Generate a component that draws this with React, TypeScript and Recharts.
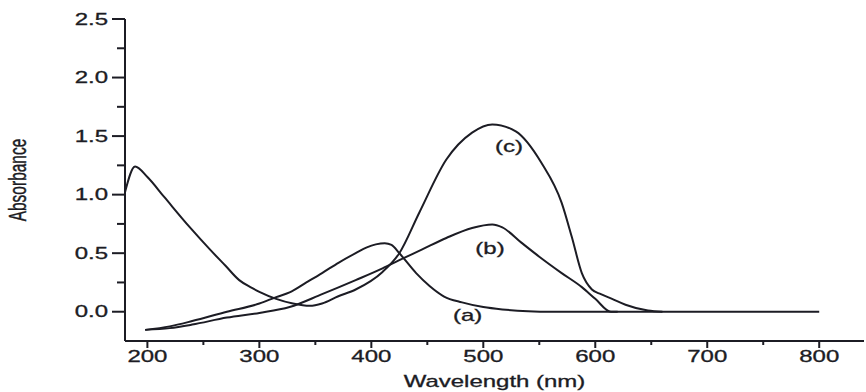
import { LineChart, Line, XAxis, YAxis, ReferenceDot } from 'recharts';

// spectrum (a)
const wlA = [198, 220, 240, 271, 300, 315, 327, 342, 356, 371, 386, 396, 404, 412, 418, 425, 440, 452, 465, 481, 500, 517, 540, 560, 800];
const absA = [-0.155, -0.125, -0.08, 0.0, 0.07, 0.125, 0.165, 0.25, 0.33, 0.42, 0.5, 0.55, 0.575, 0.585, 0.57, 0.5, 0.33, 0.22, 0.13, 0.08, 0.04, 0.02, 0.005, 0, 0];

// spectrum (b)
const wlB = [198, 220, 240, 271, 300, 327, 356, 386, 410, 425, 445, 467, 490, 508, 517, 534, 550, 570, 588, 600, 614, 620];
const absB = [-0.155, -0.14, -0.11, -0.05, -0.01, 0.04, 0.15, 0.27, 0.37, 0.44, 0.53, 0.63, 0.715, 0.745, 0.72, 0.59, 0.47, 0.33, 0.21, 0.11, 0, 0];

// spectrum (c)
const wlC = [180, 189, 200, 215, 238, 256, 270, 282, 292, 300, 315, 330, 345, 356, 370, 386, 410, 425, 443, 467, 490, 508, 529, 552, 570, 579, 588, 597, 605, 615, 627, 647, 660];
const absC = [1.02, 1.24, 1.15, 0.98, 0.72, 0.53, 0.39, 0.27, 0.21, 0.17, 0.11, 0.07, 0.05, 0.07, 0.13, 0.19, 0.34, 0.5, 0.85, 1.3, 1.53, 1.6, 1.54, 1.27, 0.93, 0.64, 0.33, 0.19, 0.15, 0.11, 0.06, 0.01, 0];

const wlTicks = [200, 250, 300, 350, 400, 450, 500, 550, 600, 650, 700, 750, 800];
const absTicks = [0, 0.25, 0.5, 0.75, 1, 1.25, 1.5, 1.75, 2, 2.25, 2.5];

const curveNames = ['(a)', '(b)', '(c)'];
const nameWl = [486, 506, 523];
const nameAbs = [-0.026, 0.546, 1.41];

const toRows = (wl: number[], abs: number[]) => wl.map((w, i) => ({ wl: w, abs: abs[i] }));

const FONT = '"Liberation Sans", Arial, sans-serif';
const INK = '#1c1c24';

// the source figure is stretched sideways, so the text is too
const Stretched = ({ x, y, anchor, children }: any) => (
  <text
    transform={`translate(${x},${y}) scale(1.5,1)`}
    textAnchor={anchor}
    dy="0.36em"
    fontSize={16}
    fontFamily={FONT}
    fill={INK}
    stroke={INK}
    strokeWidth={0.3}
  >
    {children}
  </text>
);

const YTick = ({ x, y, payload }: any) => {
  const major = Math.abs(payload.value * 2 - Math.round(payload.value * 2)) < 1e-6;
  return (
    <g>
      <line x1={x} x2={x - (major ? 13 : 8)} y1={y} y2={y} stroke={INK} strokeWidth={2} />
      {major && (
        <Stretched x={x - 17} y={y} anchor="end">
          {payload.value.toFixed(1)}
        </Stretched>
      )}
    </g>
  );
};

const XTick = ({ x, y, payload }: any) => {
  const major = payload.value % 100 === 0;
  return (
    <g>
      <line x1={x} x2={x} y1={y} y2={y + (major ? 7 : 4)} stroke={INK} strokeWidth={2} />
      {major && (
        <Stretched x={x} y={y + 15} anchor="middle">
          {payload.value}
        </Stretched>
      )}
    </g>
  );
};

const YTitle = ({ viewBox }: any) => (
  <text
    transform={`translate(${viewBox.x - 47},${viewBox.y + viewBox.height / 2}) scale(1.5,1) rotate(-90)`}
    textAnchor="middle"
    dy="0.36em"
    fontSize={15.5}
    fontFamily={FONT}
    fill={INK}
    stroke={INK}
    strokeWidth={0.3}
  >
    Absorbance
  </text>
);

const XTitle = ({ viewBox }: any) => (
  <Stretched x={viewBox.x + viewBox.width / 2} y={viewBox.y + 40} anchor="middle">
    Wavelength (nm)
  </Stretched>
);

export default function App() {
  const series = [toRows(wlA, absA), toRows(wlB, absB), toRows(wlC, absC)];
  return (
    <div style={{ position: 'absolute', left: 0, top: 0, background: '#fff' }}>
      <LineChart width={866} height={392} margin={{ top: 19, right: 2, left: 65, bottom: 0 }}>
        <XAxis
          type="number"
          dataKey="wl"
          domain={[180, 840]}
          ticks={wlTicks}
          interval={0}
          height={51}
          tickSize={0}
          tickMargin={0}
          tickLine={false}
          axisLine={{ stroke: INK, strokeWidth: 2 }}
          tick={<XTick />}
          label={<XTitle />}
          allowDuplicatedCategory={false}
        />
        <YAxis
          type="number"
          domain={[-0.25, 2.5]}
          ticks={absTicks}
          interval={0}
          width={60}
          tickSize={0}
          tickMargin={0}
          tickLine={false}
          axisLine={{ stroke: INK, strokeWidth: 2 }}
          tick={<YTick />}
          label={<YTitle />}
        />
        {series.map((rows, i) => (
          <Line
            key={curveNames[i]}
            data={rows}
            dataKey="abs"
            type="monotone"
            stroke={INK}
            strokeWidth={2}
            dot={false}
            activeDot={false}
            isAnimationActive={false}
          />
        ))}
        {curveNames.map((name, i) => (
          <ReferenceDot
            key={name}
            x={nameWl[i]}
            y={nameAbs[i]}
            r={0}
            shape={(p: any) => (
              <Stretched x={p.cx} y={p.cy} anchor="middle">
                {name}
              </Stretched>
            )}
          />
        ))}
      </LineChart>
    </div>
  );
}
